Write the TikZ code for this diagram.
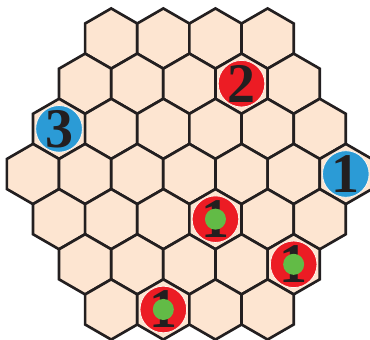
\documentclass[tikz,border=0pt]{standalone}
\usepackage{fontspec}
\setmainfont{Liberation Serif}
\usetikzlibrary{positioning}
\definecolor{cell}{HTML}{FDE5D1}
\definecolor{edge}{HTML}{231F20}
\definecolor{redstone}{HTML}{EC1C24}
\definecolor{bluestone}{HTML}{2B9BD6}
\definecolor{dot}{HTML}{62BB46}
\tikzset{
  hexcell/.style={fill=cell,draw=edge,line width=2pt,line join=miter},
  stone/.style={circle,inner sep=0pt,minimum size=35pt,draw=white!60!cell,line width=0.6pt,
    text=edge,font=\fontsize{42}{42}\selectfont\bfseries},
  dotmark/.style={circle,inner sep=0pt,minimum size=15.8pt,fill=dot}
}

\begin{document}
\begin{tikzpicture}[x=22.6pt,y=22.6pt]
  \useasboundingbox (-6.292,-5.482) rectangle (6.0,5.781);

  % Board: 7 rows of hexagons
  \foreach \r in {0,...,6}{
    \pgfmathtruncatemacro{\n}{7-abs(\r-3)}
    \pgfmathtruncatemacro{\m}{\n-1}
    \foreach \k in {0,...,\m}{
      \pgfmathsetmacro{\cx}{(\k-(\n-1)/2)*sqrt(3)}
      \pgfmathsetmacro{\cy}{(3-\r)*1.5}
      \draw[hexcell,shift={(\cx,\cy)}] (90:1) -- (150:1) -- (210:1) -- (270:1) -- (330:1) -- (30:1) -- cycle;
    }
  }

  % Blue stones
  \node[stone,fill=bluestone] (three) at (-4.330,1.5) {3};
  \node[stone,fill=bluestone] (oneb) at (5.196,0) {1};

  % Red stones
  \node[stone,fill=redstone] (two) at (1.732,3) {2};
  \node[stone,fill=redstone] (onea) at (0.866,-1.5) {1};
  \node[stone,fill=redstone] (onec) at (3.464,-3) {1};
  \node[stone,fill=redstone] (oned) at (-0.866,-4.5) {1};

  % Green marks
  \foreach \s in {onea,onec,oned}
    \node[dotmark] (\s-dot) at (\s) {};
\end{tikzpicture}
\end{document}
